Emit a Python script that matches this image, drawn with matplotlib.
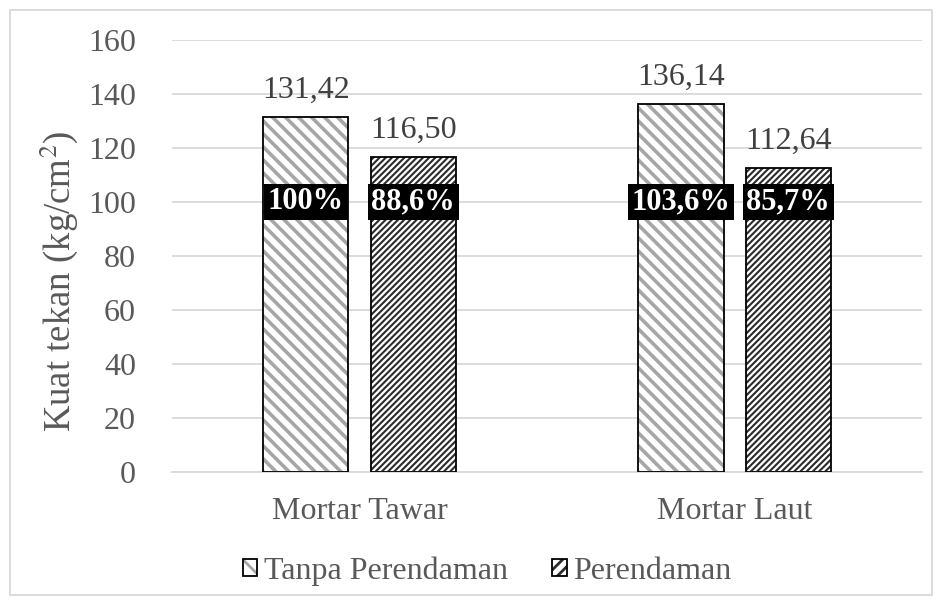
import numpy as np
import matplotlib.pyplot as plt
from matplotlib.patches import Rectangle
from matplotlib.collections import LineCollection
from matplotlib.legend_handler import HandlerTuple
from matplotlib.transforms import IdentityTransform

plt.rcParams['font.family'] = ['Liberation Serif', 'DejaVu Serif']
plt.rcParams['mathtext.fontset'] = 'stix'
plt.rcParams['hatch.linewidth'] = 2.0

categories = ['Mortar Tawar', 'Mortar Laut']
series_names = ['Tanpa Perendaman', 'Perendaman']
tanpa = [131.42, 136.14]
rendam = [116.50, 112.64]
pct_tanpa = ['100%', '103,6%']
pct_rendam = ['88,6%', '85,7%']

grey_txt = '#595959'
value_txt = '#404040'
light_stripe = '#a6a6a6'
dark_stripe = '#2b2b2b'

fig = plt.figure(figsize=(9.42, 6.05), dpi=100)
ax = fig.add_axes([0.1826, 0.2198, 0.7964, 0.7142])

x = np.arange(len(categories))
w = 0.227
off = 0.143

ax.set_ylim(0, 160)
ax.set_xlim(-0.5, 1.5)

# white fill, stripes on top, black outline last
b1 = ax.bar(x - off, tanpa, w, color='white', linewidth=0, zorder=2)
b2 = ax.bar(x + off, rendam, w, color='white', linewidth=0, zorder=2)
ax.bar(x - off, tanpa, w, color='none', edgecolor='black', linewidth=1.3, zorder=3)
ax.bar(x + off, rendam, w, color='none', edgecolor='black', linewidth=1.3, zorder=3)


def stripe(patch, step, direction, color, lw):
    """Diagonal stripes in pixel space, clipped to the bar."""
    (x0, y0), (x1, y1) = ax.transData.transform(
        [(patch.get_x(), patch.get_y()),
         (patch.get_x() + patch.get_width(), patch.get_y() + patch.get_height())])
    segs = []
    if direction == '\\':
        for c in np.arange(x0 + y0 - step, x1 + y1 + step, step):
            segs.append([(x0 - 5, c - x0 + 5), (x1 + 5, c - x1 - 5)])
    else:
        for c in np.arange(y0 - x1 - step, y1 - x0 + step, step):
            segs.append([(x0 - 5, c + x0 - 5), (x1 + 5, c + x1 + 5)])
    lc = LineCollection(segs, colors=color, linewidths=lw, transform=IdentityTransform(),
                        zorder=2.5, capstyle='butt')
    ax.add_collection(lc, autolim=False)
    lc.set_clip_path(patch)


for p in b1:
    stripe(p, 13.0, '\\', light_stripe, 2.6)
for p in b2:
    stripe(p, 6.2, '/', dark_stripe, 1.5)


def fmt(v):
    return f'{v:.2f}'.replace('.', ',')


for xs, vals in ((x - off, tanpa), (x + off, rendam)):
    for xi, v in zip(xs, vals):
        ax.text(xi, v + 4.5, fmt(v), ha='center', va='bottom', fontsize=23, color=value_txt)

for xs, labels in ((x - off, pct_tanpa), (x + off, pct_rendam)):
    for xi, s in zip(xs, labels):
        ax.text(xi, 100, s, ha='center', va='center', fontsize=22, fontweight='bold',
                color='white', zorder=5,
                bbox=dict(boxstyle='square,pad=0.12', facecolor='black', edgecolor='none'))

ax.set_yticks(np.arange(0, 161, 20))
ax.set_xticks(x)
ax.set_xticklabels(categories)
ax.tick_params(axis='both', length=0, labelsize=23, labelcolor=grey_txt)
ax.tick_params(axis='x', pad=18)
ax.tick_params(axis='y', pad=26)
ax.yaxis.grid(True, color='#d9d9d9', linewidth=1.3)
ax.set_axisbelow(True)
for s in ['top', 'right', 'left']:
    ax.spines[s].set_visible(False)
ax.spines['bottom'].set_color('#d9d9d9')
ax.spines['bottom'].set_linewidth(1.3)

ax.set_ylabel('Kuat tekan (kg/cm$^{2}$)', fontsize=26.5, color=grey_txt)
ax.yaxis.set_label_coords(-0.1227, 0.44)

# legend keys: hatched fill under a black outline
f1 = Rectangle((0, 0), 1, 1, facecolor='white', edgecolor=light_stripe, hatch='\\\\', linewidth=0)
f2 = Rectangle((0, 0), 1, 1, facecolor='white', edgecolor=dark_stripe, hatch='///', linewidth=0)
e1 = Rectangle((0, 0), 1, 1, facecolor='none', edgecolor='black', linewidth=1.3)
e2 = Rectangle((0, 0), 1, 1, facecolor='none', edgecolor='black', linewidth=1.3)
leg = fig.legend([(f1, e1), (f2, e2)], series_names, loc='center',
                 bbox_to_anchor=(0.517, 0.056), ncol=2, frameon=False, fontsize=23,
                 handlelength=0.45, handleheight=0.45, handletextpad=0.2, columnspacing=1.4,
                 handler_map={tuple: HandlerTuple(ndivide=1)})
for t in leg.get_texts():
    t.set_color(grey_txt)

fig.patches.append(Rectangle((0.011, 0.016), 0.978, 0.968, transform=fig.transFigure,
                             facecolor='none', edgecolor='#d9d9d9', linewidth=1.3))

fig.savefig('out.png', dpi=100)
